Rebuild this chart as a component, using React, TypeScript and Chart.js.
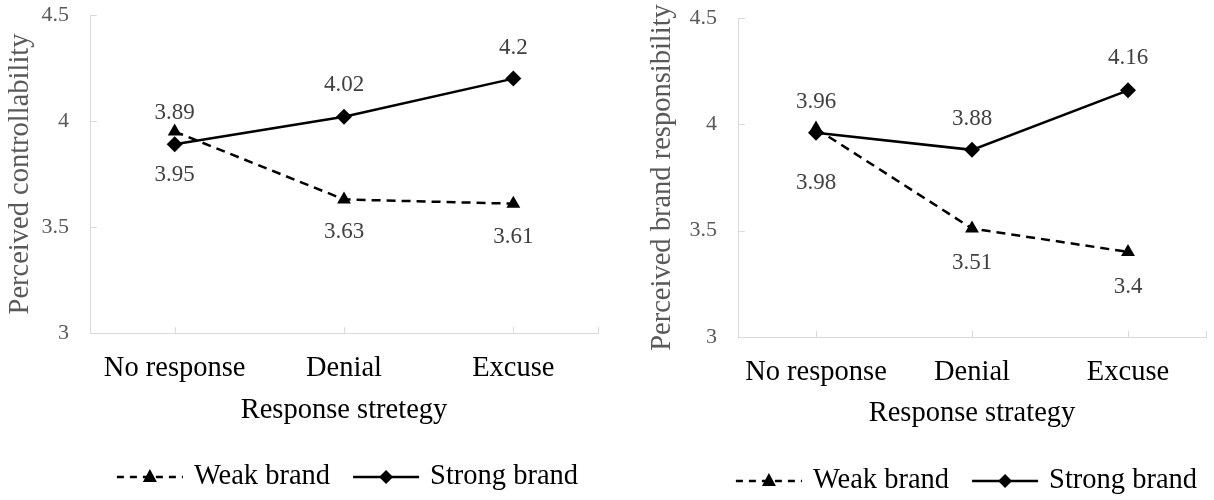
import React, { useEffect, useRef } from "react";
import { Chart, registerables } from "chart.js";

Chart.register(...registerables);

const categories = ["No response", "Denial", "Excuse"];
const seriesNames = ["Weak brand", "Strong brand"];
const controllabilityWeak = [3.95, 3.63, 3.61];
const controllabilityStrong = [3.89, 4.02, 4.2];
const responsibilityWeak = [3.98, 3.51, 3.4];
const responsibilityStrong = [3.96, 3.88, 4.16];
const yTickValues = [3, 3.5, 4, 4.5];

const FONT = '"Liberation Serif", "Times New Roman", serif';
const AXIS_GREY = "#d9d9d9";

const pointLabels = {
  id: "pointLabels",
  afterDatasetsDraw(chart: any, _args: any, opts: any) {
    const ctx = chart.ctx;
    ctx.save();
    ctx.font = `${opts.size}px ${FONT}`;
    ctx.fillStyle = opts.color;
    ctx.textAlign = "center";
    ctx.textBaseline = "middle";
    chart.data.datasets.forEach((ds: any, di: number) => {
      const meta = chart.getDatasetMeta(di);
      const shifts = opts.shifts[di];
      meta.data.forEach((pt: any, i: number) => {
        ctx.fillText(String(ds.data[i]), pt.x, pt.y + shifts[i]);
      });
    });
    ctx.restore();
  },
};

const innerTicks = {
  id: "innerTicks",
  beforeDatasetsDraw(chart: any) {
    const ctx = chart.ctx;
    const area = chart.chartArea;
    const xs = chart.scales.x;
    const ys = chart.scales.y;
    ctx.save();
    ctx.strokeStyle = AXIS_GREY;
    ctx.lineWidth = 1;
    ctx.beginPath();
    ys.ticks.forEach((t: any) => {
      const y = Math.round(ys.getPixelForValue(t.value)) + 0.5;
      ctx.moveTo(area.left, y);
      ctx.lineTo(area.left + 7, y);
    });
    const xpix = xs.ticks.map((_t: any, i: number) => xs.getPixelForTick(i));
    xpix.push(area.right);
    xpix.forEach((p: number) => {
      const x = Math.round(p) + 0.5;
      ctx.moveTo(x, area.bottom);
      ctx.lineTo(x, area.bottom - 6);
    });
    ctx.stroke();
    ctx.restore();
  },
};

const bottomLegend = {
  id: "bottomLegend",
  afterDraw(chart: any, _args: any, opts: any) {
    const ctx = chart.ctx;
    ctx.save();
    ctx.font = `${opts.size}px ${FONT}`;
    const sampleW = 66;
    const gapText = 11;
    const gapItem = 23;
    const items = chart.data.datasets.map((ds: any) => ({
      text: ds.label,
      dash: ds.borderDash || [],
      style: ds.pointStyle,
      w: ctx.measureText(ds.label).width,
    }));
    let total = 0;
    items.forEach((it: any, i: number) => {
      total += sampleW + gapText + it.w + (i < items.length - 1 ? gapItem : 0);
    });
    let x = opts.cx - total / 2;
    const y = opts.y;
    items.forEach((it: any) => {
      ctx.strokeStyle = "#000";
      ctx.lineWidth = 2.5;
      ctx.setLineDash(it.dash.length ? [7, 6] : []);
      ctx.beginPath();
      ctx.moveTo(x, y);
      ctx.lineTo(x + sampleW, y);
      ctx.stroke();
      ctx.setLineDash([]);
      ctx.fillStyle = "#000";
      const cx = x + sampleW / 2;
      ctx.beginPath();
      if (it.style === "triangle") {
        ctx.moveTo(cx, y - 8);
        ctx.lineTo(cx + 7, y + 5);
        ctx.lineTo(cx - 7, y + 5);
      } else {
        ctx.moveTo(cx, y - 7);
        ctx.lineTo(cx + 7, y);
        ctx.lineTo(cx, y + 7);
        ctx.lineTo(cx - 7, y);
      }
      ctx.closePath();
      ctx.fill();
      ctx.fillStyle = "#000";
      ctx.textAlign = "left";
      ctx.textBaseline = "middle";
      ctx.fillText(it.text, x + sampleW + gapText, y);
      x += sampleW + gapText + it.w + gapItem;
    });
    ctx.restore();
  },
};

type PanelProps = {
  width: number;
  weak: number[];
  strong: number[];
  yTitle: string;
  xTitle: string;
  top: number;
  bottom: number;
  yWidth: number;
  right: number;
  yTitlePad: number;
  xTitlePad: number;
  legendCx: number;
  legendY: number;
  shifts: number[][];
};

function Panel(p: PanelProps) {
  const ref = useRef<HTMLCanvasElement | null>(null);
  useEffect(() => {
    if (!ref.current) return;
    const chart = new Chart(ref.current, {
      type: "line",
      data: {
        labels: categories,
        datasets: [
          {
            label: seriesNames[0],
            data: p.weak,
            borderColor: "#000",
            backgroundColor: "#000",
            borderWidth: 2.5,
            borderDash: [9, 6],
            pointStyle: "triangle",
            pointRadius: 8,
            pointBorderWidth: 0,
            tension: 0,
          },
          {
            label: seriesNames[1],
            data: p.strong,
            borderColor: "#000",
            backgroundColor: "#000",
            borderWidth: 2.5,
            pointStyle: "rectRot",
            pointRadius: 8,
            pointBorderWidth: 0,
            tension: 0,
          },
        ],
      },
      options: {
        animation: false,
        responsive: false,
        devicePixelRatio: 1,
        layout: { padding: { top: p.top, right: p.right, left: 0, bottom: 0 } },
        plugins: {
          legend: { display: false },
          tooltip: { enabled: false },
          pointLabels: { size: 23, color: "#404040", shifts: p.shifts },
          bottomLegend: { size: 28.5, cx: p.legendCx, y: p.legendY },
        } as any,
        scales: {
          x: {
            type: "category",
            offset: true,
            grid: { display: false, drawTicks: false, offset: false },
            border: { display: true, color: AXIS_GREY, width: 1 },
            ticks: {
              color: "#000",
              font: { family: FONT, size: 28.5 },
              padding: 18,
              maxRotation: 0,
              autoSkip: false,
            },
            title: {
              display: true,
              text: p.xTitle,
              color: "#000",
              font: { family: FONT, size: 28.5 },
              padding: { top: 0, bottom: p.xTitlePad },
            },
            afterFit: (s: any) => {
              s.height = 500 - p.bottom;
              s.paddingLeft = 0;
              s.paddingRight = 0;
            },
          } as any,
          y: {
            min: 3,
            max: 4.5,
            grid: { display: false, drawTicks: false },
            border: { display: true, color: AXIS_GREY, width: 1 },
            ticks: {
              color: "#595959",
              font: { family: FONT, size: 22 },
              padding: 21,
              callback: (v: any) => String(v),
            },
            afterBuildTicks: (s: any) => {
              s.ticks = yTickValues.map((v) => ({ value: v }));
            },
            title: {
              display: true,
              text: p.yTitle,
              color: "#595959",
              font: { family: FONT, size: 28.5 },
              padding: { top: p.yTitlePad, bottom: 0 },
            },
            afterFit: (s: any) => {
              s.width = p.yWidth;
              s.paddingTop = 0;
              s.paddingBottom = 0;
            },
          } as any,
        },
      },
      plugins: [pointLabels, innerTicks, bottomLegend],
    });
    return () => chart.destroy();
  }, []);
  return <canvas ref={ref} width={p.width} height={500} style={{ display: "block" }} />;
}

export default function App() {
  return (
    <div
      style={{
        position: "absolute",
        left: 0,
        top: 0,
        width: 1214,
        height: 500,
        display: "flex",
        background: "#fff",
      }}
    >
      <Panel
        width={614}
        weak={controllabilityWeak}
        strong={controllabilityStrong}
        yTitle="Perceived controllability"
        xTitle="Response stretegy"
        top={15}
        bottom={333}
        yWidth={90}
        right={16}
        yTitlePad={3.4}
        xTitlePad={71.9}
        legendCx={347.5}
        legendY={477}
        shifts={[
          [43, 33, 33],
          [-31, -32, -31],
        ]}
      />
      <Panel
        width={600}
        weak={responsibilityWeak}
        strong={responsibilityStrong}
        yTitle="Perceived brand responsibility"
        xTitle="Response strategy"
        top={18}
        bottom={337}
        yWidth={124}
        right={2}
        yTitlePad={31.4}
        xTitlePad={68.9}
        legendCx={352.5}
        legendY={481}
        shifts={[
          [54, 34, 35],
          [-31, -31, -32],
        ]}
      />
    </div>
  );
}
